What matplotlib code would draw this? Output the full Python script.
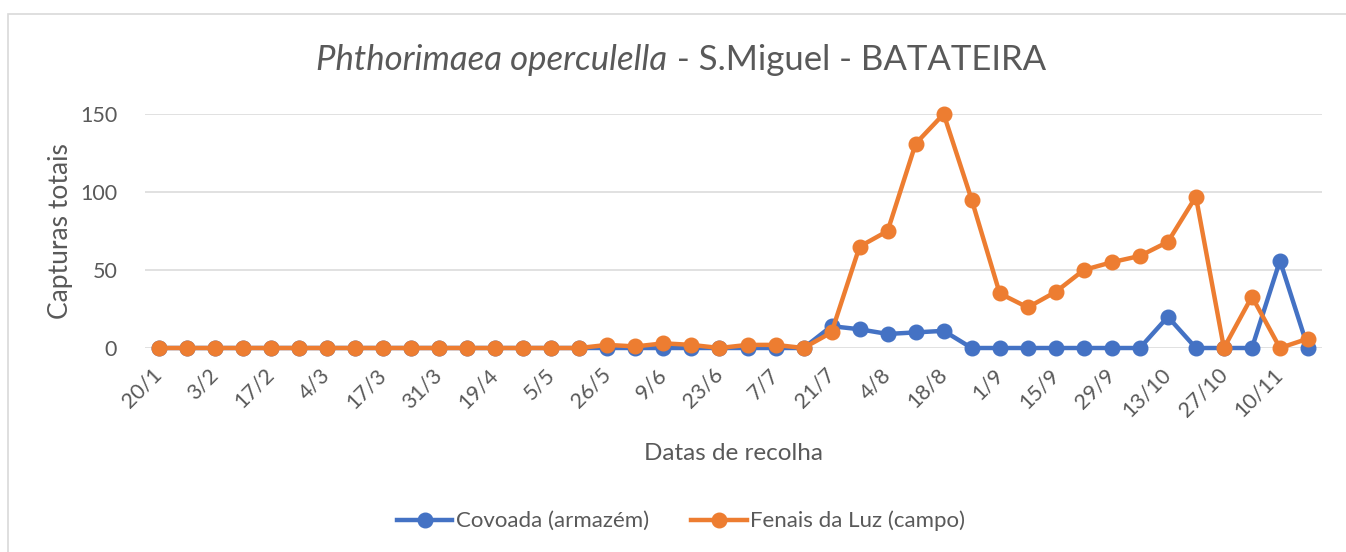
import matplotlib.pyplot as plt
from matplotlib.patches import Rectangle
from matplotlib.lines import Line2D

plt.rcParams['font.family'] = ['Lato', 'DejaVu Sans']

# collection dates (every other one is shown on the axis)
datas = ['20/1', '27/1', '3/2', '10/2', '17/2', '24/2', '4/3', '10/3', '17/3', '24/3',
         '31/3', '7/4', '19/4', '28/4', '5/5', '12/5', '26/5', '2/6', '9/6', '16/6',
         '23/6', '30/6', '7/7', '14/7', '21/7', '28/7', '4/8', '11/8', '18/8', '25/8',
         '1/9', '8/9', '15/9', '22/9', '29/9', '6/10', '13/10', '20/10', '27/10', '3/11',
         '10/11', '17/11']

covoada = [0, 0, 0, 0, 0, 0, 0, 0, 0, 0,
           0, 0, 0, 0, 0, 0, 0, 0, 0, 0,
           0, 0, 0, 0, 14, 12, 9, 10, 11, 0,
           0, 0, 0, 0, 0, 0, 20, 0, 0, 0,
           56, 0]

fenais = [0, 0, 0, 0, 0, 0, 0, 0, 0, 0,
          0, 0, 0, 0, 0, 0, 2, 1, 3, 2,
          0, 2, 2, 0, 10, 65, 75, 131, 150, 95,
          35, 26, 36, 50, 55, 59, 68, 97, 0, 33,
          0, 6]

azul = '#4472C4'
laranja = '#ED7D31'
cinza_txt = '#595959'
cinza_grid = '#D9D9D9'

W, H = 1346, 552
fig = plt.figure(figsize=(W / 100, H / 100), dpi=100)

# chart-area border (cut off at right / bottom like the original)
fig.patches.append(Rectangle((8 / W, -0.1), 1.2, 1 - 14 / H + 0.1, transform=fig.transFigure,
                             fill=False, edgecolor=cinza_grid, linewidth=1.2))

ax = fig.add_axes([145 / W, 1 - 348 / H, (1322 - 145) / W, (348 - 114) / H])

x = list(range(len(datas)))
ax.plot(x, covoada, color=azul, linewidth=3.2, marker='o', markersize=10.5, clip_on=False, zorder=3)
ax.plot(x, fenais, color=laranja, linewidth=3.2, marker='o', markersize=10.5, clip_on=False, zorder=4)

ax.set_xlim(-0.5, len(datas) - 0.5)
ax.set_ylim(0, 150)
ax.set_yticks([0, 50, 100, 150])
ax.grid(axis='y', color=cinza_grid, linewidth=1.1)
ax.set_axisbelow(True)
for s in ax.spines.values():
    s.set_visible(False)

ax.set_xticks(x[::2])
ax.set_xticklabels(datas[::2], rotation=45, ha='right', va='center', rotation_mode='anchor')
ax.tick_params(axis='x', length=0, pad=17, labelsize=15.5, labelcolor=cinza_txt)
ax.tick_params(axis='y', length=0, pad=20, labelsize=15.5, labelcolor=cinza_txt)

ax.set_xlabel('Datas de recolha', fontsize=17.5, color=cinza_txt, labelpad=16)
ax.set_ylabel('Capturas totais', fontsize=19, color=cinza_txt, labelpad=5)

# title: italic species name followed by upright text
t1 = fig.text(0, 0, 'Phthorimaea operculella', style='italic', fontsize=25, color=cinza_txt)
t2 = fig.text(0, 0, ' - S.Miguel - BATATEIRA', fontsize=25, color=cinza_txt)
fig.canvas.draw()
r = fig.canvas.get_renderer()
w1 = t1.get_window_extent(r).width
w2 = t2.get_window_extent(r).width
x0 = 681 - (w1 + w2) / 2
t1.set_position((x0 / W, 1 - 70 / H))
t2.set_position(((x0 + w1) / W, 1 - 70 / H))

handles = [Line2D([], [], color=azul, linewidth=3.2, marker='o', markersize=10.5),
           Line2D([], [], color=laranja, linewidth=3.2, marker='o', markersize=10.5)]
fig.legend(handles, ['Covoada (armazém)', 'Fenais da Luz (campo)'], loc='center',
           bbox_to_anchor=(681 / W, 1 - 521 / H), ncol=2, frameon=False, fontsize=16,
           labelcolor=cinza_txt, handlelength=2.5, handletextpad=0.15, columnspacing=1.9)

fig.savefig('out.png', dpi=100)
